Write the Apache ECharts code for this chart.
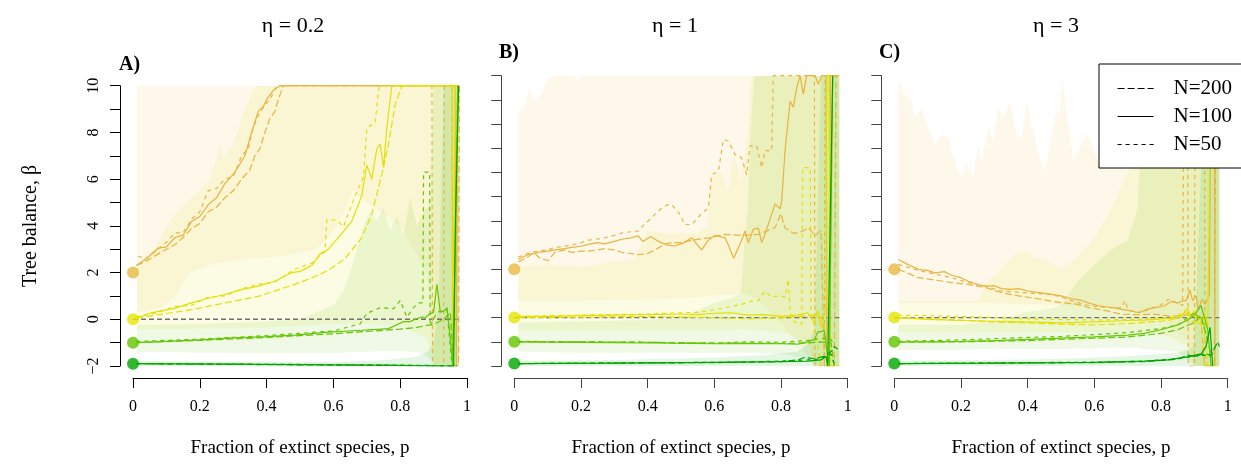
<!DOCTYPE html>
<html>
<head>
<meta charset="utf-8">
<script src="https://cdn.jsdelivr.net/npm/echarts@6/dist/echarts.min.js"></script>
<style>
html,body{margin:0;padding:0;background:#fff;}
#chart{width:1241px;height:466px;}
</style>
</head>
<body>
<div id="chart"></div>
<script>
// ---------------- DATA ----------------
const panelTitles = ['η = 0.2', 'η = 1', 'η = 3'];
const panelLetters = ['A)', 'B)', 'C)'];
const xTickLabels = ['0', '0.2', '0.4', '0.6', '0.8', '1'];
const yTickLabels = ['\u22122', '0', '2', '4', '6', '8', '10'];
const groupNames = ['orange', 'yellow', 'lgreen', 'dgreen'];
const startValues = [2, 0, -1, -1.9];
const legendNames = ['N=200', 'N=100', 'N=50'];
const zeroLine = [[0, 0], [0.975, 0]];

// Panel A (eta = 0.2) lines: [p, beta]
const A_orange_200 = [[0.01,2.3],[0.04,2.5],[0.076,2.8],[0.1,3.0],[0.126,3.2],[0.15,3.5],[0.176,3.9],[0.2,4.1],[0.225,4.6],[0.25,4.8],[0.275,5.2],[0.3,5.5],[0.325,6.0],[0.35,6.4],[0.365,7.0],[0.38,7.3],[0.395,8.0],[0.41,8.6],[0.425,8.9],[0.435,9.4],[0.45,10],[0.955,10],[0.958,-2],[0.975,-2],[0.977,10]];
const A_orange_100 = [[0.01,2.3],[0.04,2.6],[0.076,3.05],[0.1,3.1],[0.126,3.5],[0.15,3.6],[0.176,4.2],[0.2,4.4],[0.225,4.9],[0.25,5.2],[0.275,5.8],[0.305,6.3],[0.335,7.0],[0.345,7.5],[0.355,8.0],[0.375,8.9],[0.39,9.1],[0.4,9.4],[0.42,9.8],[0.44,10],[0.965,10],[0.968,-2],[0.972,10]];
const A_orange_50 = [[0.015,2.7],[0.04,2.6],[0.076,3.0],[0.1,3.3],[0.126,3.7],[0.15,3.7],[0.176,4.3],[0.2,4.6],[0.225,5.5],[0.25,5.6],[0.275,6.0],[0.3,6.1],[0.325,7.0],[0.345,7.3],[0.36,8.2],[0.375,8.7],[0.395,9.2],[0.41,9.4],[0.43,10],[0.895,10],[0.897,-2],[0.93,-2],[0.932,10],[0.975,10]];
const A_yellow_200 = [[0.01,0.05],[0.076,0.2],[0.176,0.41],[0.275,0.7],[0.375,0.98],[0.475,1.45],[0.535,1.77],[0.585,2.1],[0.635,2.6],[0.685,3.5],[0.715,4.5],[0.745,6.2],[0.765,7.5],[0.785,9.2],[0.805,10],[0.975,10]];
const A_yellow_100 = [[0.01,0.05],[0.05,0.25],[0.076,0.34],[0.126,0.48],[0.176,0.7],[0.225,0.9],[0.275,1.06],[0.325,1.27],[0.375,1.42],[0.425,1.63],[0.475,2.0],[0.5,2.05],[0.535,2.3],[0.56,2.8],[0.585,3.0],[0.615,3.5],[0.655,4.2],[0.685,5.3],[0.7,6.6],[0.715,6.0],[0.73,7.3],[0.74,7.5],[0.75,6.5],[0.76,8.2],[0.775,10],[0.955,10],[0.957,-2],[0.962,-2],[0.965,10]];
const A_yellow_50 = [[0.01,0.1],[0.076,0.3],[0.126,0.55],[0.176,0.6],[0.225,0.95],[0.275,1.0],[0.325,1.3],[0.375,1.5],[0.425,1.6],[0.485,2.15],[0.535,2.4],[0.575,2.9],[0.58,4.25],[0.61,4.25],[0.63,3.96],[0.66,5.1],[0.69,6.1],[0.7,8.2],[0.725,8.4],[0.735,9.8],[0.74,10],[0.97,10]];
const A_lgreen_200 = [[0.01,-1.0],[0.2,-0.9],[0.4,-0.78],[0.6,-0.62],[0.7,-0.52],[0.8,-0.42],[0.85,-0.35],[0.885,-0.25],[0.91,-0.15],[0.93,0.0],[0.95,0.3],[0.96,-2],[0.97,-2]];
const A_lgreen_100 = [[0.01,-1.0],[0.1,-0.95],[0.2,-0.88],[0.3,-0.8],[0.4,-0.74],[0.485,-0.68],[0.585,-0.55],[0.685,-0.47],[0.765,-0.4],[0.795,-0.2],[0.81,-0.1],[0.83,-0.1],[0.845,0.0],[0.865,0.1],[0.875,0.05],[0.885,0.2],[0.9,0.3],[0.91,1.5],[0.92,0.3],[0.93,0.35],[0.94,0.5],[0.95,-0.8],[0.957,-1.95],[0.965,3],[0.972,10]];
const A_lgreen_50 = [[0.01,-0.95],[0.2,-0.85],[0.4,-0.7],[0.6,-0.5],[0.68,-0.2],[0.7,0.25],[0.74,0.5],[0.78,0.45],[0.8,0.8],[0.82,0.1],[0.84,0.5],[0.855,0.7],[0.868,0.7],[0.87,6.3],[0.888,6.3],[0.89,-0.3],[0.91,0.3],[0.94,0.4],[0.955,-2]];
const A_dgreen_200 = [[0.01,-1.9],[0.3,-1.93],[0.6,-1.96],[0.8,-1.98],[0.9,-2.0],[0.97,-2.0]];
const A_dgreen_100 = [[0.01,-1.9],[0.3,-1.92],[0.6,-1.95],[0.8,-1.97],[0.9,-2.0],[0.96,-2.0],[0.965,4],[0.975,10]];
const A_dgreen_50 = [[0.01,-1.9],[0.3,-1.92],[0.6,-1.94],[0.8,-1.96],[0.9,-1.98],[0.96,-2]];

// Panel B (eta = 1)
const B_orange_200 = [[0.012,2.3],[0.04,2.5],[0.06,2.7],[0.072,2.5],[0.1,2.35],[0.122,2.7],[0.15,2.8],[0.172,2.7],[0.2,2.75],[0.222,2.75],[0.25,2.8],[0.272,2.85],[0.3,2.8],[0.322,2.7],[0.35,2.65],[0.372,2.6],[0.4,2.65],[0.422,2.8],[0.45,3.03],[0.472,3.1],[0.5,3.1],[0.532,3.2],[0.582,3.3],[0.632,3.44],[0.682,3.4],[0.732,3.44],[0.782,3.72],[0.8,4.3],[0.812,3.7],[0.837,3.48],[0.862,3.55],[0.882,3.72],[0.902,3.4],[0.92,3.6],[0.93,-2],[0.96,-2],[0.965,10],[0.975,10]];
const B_orange_100 = [[0.012,2.4],[0.04,2.6],[0.072,2.7],[0.1,2.75],[0.122,2.8],[0.15,2.85],[0.172,2.9],[0.2,2.95],[0.222,3.03],[0.25,3.1],[0.272,3.05],[0.3,3.15],[0.322,3.24],[0.35,3.3],[0.372,3.38],[0.385,3.15],[0.41,3.35],[0.422,3.24],[0.44,3.1],[0.46,3.0],[0.482,2.96],[0.51,3.1],[0.532,3.3],[0.55,3.0],[0.562,2.8],[0.582,3.2],[0.602,3.4],[0.632,3.3],[0.642,3.0],[0.658,2.45],[0.682,3.2],[0.692,3.58],[0.702,3.1],[0.717,3.65],[0.732,3.7],[0.742,3.1],[0.752,3.45],[0.772,4.27],[0.782,4.7],[0.797,4.5],[0.802,4.8],[0.812,6.9],[0.827,8.94],[0.837,8.7],[0.847,9.5],[0.857,10],[0.867,9.24],[0.877,10],[0.902,10],[0.912,9.65],[0.922,10],[0.935,10],[0.938,-2],[0.945,-2],[0.948,10],[0.97,10]];
const B_orange_50 = [[0.012,2.5],[0.05,2.7],[0.072,2.75],[0.1,2.8],[0.122,2.9],[0.15,2.95],[0.172,3.0],[0.2,3.1],[0.222,3.2],[0.25,3.25],[0.272,3.3],[0.3,3.4],[0.322,3.5],[0.35,3.55],[0.372,3.58],[0.39,3.85],[0.41,4.1],[0.422,4.27],[0.44,4.5],[0.46,4.67],[0.472,4.67],[0.49,4.4],[0.5,4.2],[0.51,3.85],[0.532,3.85],[0.56,4.27],[0.582,4.54],[0.592,5.9],[0.612,6.05],[0.627,7.36],[0.642,7.3],[0.662,6.74],[0.682,6.6],[0.697,5.9],[0.707,7.1],[0.727,7.1],[0.742,6.2],[0.752,6.9],[0.772,6.9],[0.777,10],[0.9,10],[0.902,-2],[0.93,-2],[0.932,10],[0.975,10]];
const B_yellow_200 = [[0.012,0.0],[0.2,0.02],[0.4,0.05],[0.6,0.0],[0.7,-0.05],[0.8,0.0],[0.85,0.05],[0.9,0.1],[0.92,0.0],[0.93,-0.3],[0.94,-2],[0.975,-2]];
const B_yellow_100 = [[0.012,0.05],[0.1,0.05],[0.2,0.08],[0.3,0.1],[0.4,0.12],[0.5,0.15],[0.55,0.12],[0.6,0.18],[0.65,0.2],[0.7,0.1],[0.75,0.12],[0.8,0.05],[0.85,0.1],[0.88,0.2],[0.9,-0.2],[0.91,0.3],[0.92,-0.4],[0.935,0.5],[0.937,10],[0.945,10],[0.947,-2],[0.96,-2]];
const B_yellow_50 = [[0.012,0.05],[0.2,0.1],[0.4,0.15],[0.5,0.2],[0.55,0.22],[0.582,0.28],[0.632,0.41],[0.682,0.55],[0.712,0.68],[0.732,0.7],[0.752,1.1],[0.772,0.85],[0.792,0.9],[0.812,0.85],[0.822,1.58],[0.827,0.3],[0.832,-0.1],[0.855,-0.27],[0.862,-0.27],[0.865,6.2],[0.888,6.2],[0.89,0.2],[0.9,-0.3],[0.92,-2]];
const B_lgreen_200 = [[0.012,-1.0],[0.2,-1.0],[0.4,-1.02],[0.6,-1.05],[0.7,-1.05],[0.8,-1.07],[0.88,-1.05],[0.92,-1.0],[0.95,-1.05],[0.96,-2]];
const B_lgreen_100 = [[0.012,-1.0],[0.2,-1.02],[0.4,-1.05],[0.6,-1.08],[0.7,-1.07],[0.8,-1.08],[0.85,-1.1],[0.88,-1.0],[0.9,-0.9],[0.91,-0.6],[0.93,-0.55],[0.935,-1.1],[0.945,-2],[0.95,4],[0.955,10]];
const B_lgreen_50 = [[0.012,-0.98],[0.2,-1.0],[0.4,-1.02],[0.6,-1.06],[0.7,-1.0],[0.8,-1.02],[0.88,-0.95],[0.9,-0.9],[0.92,-0.85],[0.95,-0.9],[0.96,-1.2]];
const B_dgreen_200 = [[0.012,-1.9],[0.3,-1.88],[0.6,-1.86],[0.8,-1.82],[0.85,-1.75],[0.87,-1.65],[0.9,-1.7],[0.93,-1.6],[0.95,-1.4],[0.96,-1.2],[0.97,-1.3]];
const B_dgreen_100 = [[0.012,-1.9],[0.3,-1.88],[0.6,-1.85],[0.8,-1.82],[0.88,-1.8],[0.92,-1.75],[0.935,-1.6],[0.94,-2],[0.945,-2],[0.95,6],[0.955,10]];
const B_dgreen_50 = [[0.012,-1.9],[0.3,-1.87],[0.6,-1.85],[0.8,-1.8],[0.88,-1.75],[0.92,-1.7],[0.95,-1.5],[0.96,-1.95]];

// Panel C (eta = 3)
const C_orange_200 = [[0.012,2.0],[0.072,1.65],[0.1,1.6],[0.172,1.45],[0.222,1.37],[0.272,1.25],[0.322,1.03],[0.372,0.9],[0.422,0.8],[0.472,0.68],[0.5,0.62],[0.55,0.55],[0.582,0.41],[0.632,0.3],[0.682,0.14],[0.732,0.12],[0.782,0.14],[0.832,0.05],[0.862,0.1],[0.88,0.1],[0.9,0.2],[0.92,0.0],[0.93,-2],[0.96,-2],[0.965,10],[0.975,10]];
const C_orange_100 = [[0.012,2.4],[0.04,2.2],[0.072,2.0],[0.1,1.95],[0.122,1.85],[0.15,1.9],[0.172,1.75],[0.2,1.65],[0.222,1.5],[0.25,1.37],[0.272,1.3],[0.3,1.32],[0.322,1.2],[0.35,1.17],[0.372,1.2],[0.4,1.1],[0.422,1.05],[0.45,1.0],[0.472,0.96],[0.5,0.9],[0.532,0.78],[0.56,0.72],[0.582,0.61],[0.61,0.5],[0.632,0.45],[0.66,0.4],[0.682,0.34],[0.71,0.28],[0.732,0.2],[0.76,0.35],[0.782,0.41],[0.8,0.45],[0.812,0.5],[0.832,0.68],[0.85,0.6],[0.862,0.68],[0.875,0.7],[0.887,1.14],[0.895,0.7],[0.905,0.9],[0.912,0.3],[0.922,0.75],[0.932,0.55],[0.945,0.9],[0.95,10],[0.96,10],[0.962,-2]];
const C_orange_50 = [[0.012,2.2],[0.072,1.95],[0.122,1.8],[0.172,1.65],[0.222,1.45],[0.272,1.3],[0.322,1.1],[0.372,1.05],[0.422,1.0],[0.472,0.96],[0.5,0.85],[0.532,0.7],[0.582,0.5],[0.632,0.42],[0.682,0.4],[0.692,0.7],[0.702,0.3],[0.742,0.2],[0.772,0.41],[0.792,0.45],[0.822,0.75],[0.85,0.6],[0.865,0.5],[0.867,6.2],[0.88,6.2],[0.882,-2],[0.9,-2],[0.902,10],[0.93,10],[0.932,-2],[0.97,-2]];
const C_yellow_200 = [[0.012,0.0],[0.1,-0.05],[0.2,-0.1],[0.3,-0.18],[0.4,-0.22],[0.5,-0.27],[0.6,-0.3],[0.7,-0.25],[0.75,-0.2],[0.8,-0.15],[0.85,-0.05],[0.88,0.2],[0.9,-0.3],[0.92,0.0],[0.93,-0.5],[0.94,-2],[0.97,-2]];
const C_yellow_100 = [[0.012,0.0],[0.1,-0.07],[0.2,-0.12],[0.3,-0.15],[0.4,-0.18],[0.5,-0.22],[0.6,-0.18],[0.7,-0.12],[0.75,-0.1],[0.8,-0.05],[0.85,0.0],[0.87,0.2],[0.88,0.4],[0.89,0.0],[0.9,0.3],[0.91,-0.2],[0.92,-0.3],[0.93,0.2],[0.94,-0.5],[0.95,10],[0.97,10]];
const C_yellow_50 = [[0.012,0.1],[0.1,0.08],[0.2,0.05],[0.3,0.0],[0.4,-0.05],[0.5,-0.08],[0.6,-0.1],[0.7,-0.08],[0.8,-0.05],[0.85,0.05],[0.87,0.3],[0.88,-0.1],[0.9,0.2],[0.92,-0.2],[0.93,-2]];
const C_lgreen_200 = [[0.012,-1.0],[0.2,-1.0],[0.4,-0.95],[0.6,-0.85],[0.7,-0.8],[0.8,-0.65],[0.85,-0.5],[0.9,-0.2],[0.92,0.1],[0.95,-1.5]];
const C_lgreen_100 = [[0.012,-1.0],[0.1,-1.0],[0.2,-0.98],[0.3,-0.95],[0.4,-0.9],[0.5,-0.85],[0.6,-0.8],[0.7,-0.72],[0.75,-0.65],[0.8,-0.5],[0.85,-0.3],[0.88,-0.1],[0.9,0.1],[0.92,0.5],[0.93,0.0],[0.94,-0.5],[0.95,-2]];
const C_lgreen_50 = [[0.012,-0.98],[0.2,-0.92],[0.4,-0.82],[0.5,-0.78],[0.6,-0.7],[0.7,-0.62],[0.8,-0.45],[0.85,-0.3],[0.88,0.0],[0.9,0.2],[0.93,-0.3]];
const C_dgreen_200 = [[0.012,-1.9],[0.3,-1.88],[0.6,-1.86],[0.75,-1.82],[0.85,-1.72],[0.88,-1.55],[0.9,-1.6],[0.93,-1.5],[0.95,-1.55],[0.97,-1.0],[0.975,-1.2]];
const C_dgreen_100 = [[0.012,-1.9],[0.3,-1.88],[0.6,-1.85],[0.75,-1.8],[0.82,-1.75],[0.88,-1.62],[0.92,-1.5],[0.935,-1.2],[0.947,-0.4],[0.955,-2]];
const C_dgreen_50 = [[0.012,-1.9],[0.3,-1.87],[0.6,-1.84],[0.75,-1.8],[0.85,-1.7],[0.9,-1.6],[0.93,-1.55],[0.95,-1.6]];

// Shaded bands: [p, lower, upper]
const A_band_orange = [[0.012,0.3,10],[0.05,0.4,10],[0.08,0.5,10],[0.11,0.8,10],[0.13,1.0,10],[0.15,1.6,10],[0.17,2.0,10],[0.25,2.4,10],[0.35,2.6,10],[0.45,2.7,10],[0.5,2.85,10],[0.55,3.0,10],[0.6,3.8,10],[0.63,4.5,10],[0.66,5.5,10],[0.7,5.0,10],[0.8,4.0,10],[0.88,2.0,10],[0.9,-2,10],[0.975,-2,10]];
const A_band_yellow = [[0.012,-0.45,2.3],[0.05,-0.45,2.8],[0.08,-0.45,3.4],[0.11,-0.45,4.2],[0.13,-0.42,4.6],[0.16,-0.42,5.0],[0.2,-0.4,5.5],[0.23,-0.4,6.0],[0.25,-0.4,6.8],[0.26,-0.4,7.5],[0.27,-0.4,6.9],[0.3,-0.4,7.5],[0.33,-0.38,8.8],[0.35,-0.35,9.5],[0.37,-0.35,10],[0.5,-0.3,10],[0.6,-0.2,10],[0.7,-0.2,10],[0.8,-0.3,10],[0.88,-0.8,10],[0.9,-2,10],[0.975,-2,10]];
const A_band_lgreen = [[0.012,-1.4,-0.25],[0.2,-1.42,-0.2],[0.4,-1.45,-0.1],[0.5,-1.45,0.0],[0.55,-1.45,0.3],[0.6,-1.45,0.6],[0.63,-1.42,1.2],[0.65,-1.4,2.0],[0.67,-1.4,3.0],[0.69,-1.4,4.0],[0.71,-1.38,4.6],[0.73,-1.38,4.2],[0.75,-1.35,4.8],[0.77,-1.35,3.8],[0.79,-1.35,4.4],[0.81,-1.35,3.6],[0.83,-1.4,5.2],[0.85,-1.4,4.0],[0.87,-1.5,4.6],[0.89,-1.7,5.0],[0.9,-2,10],[0.975,-2,10]];
const A_band_dgreen = [[0.012,-2,-1.78],[0.3,-2,-1.82],[0.6,-2,-1.82],[0.75,-2,-1.75],[0.85,-2,-1.6],[0.88,-2,-1.4],[0.9,-2,-1.0],[0.915,-2,0.5],[0.93,-2,10],[0.975,-2,10]];

const B_band_orange = [[0.012,0.7,8.5],[0.03,0.7,8.7],[0.045,0.7,9.4],[0.06,0.7,9.0],[0.08,0.7,9.2],[0.1,0.7,9.9],[0.12,0.7,10],[0.18,0.7,10],[0.19,0.7,9.8],[0.2,0.7,10],[0.4,0.75,10],[0.5,0.8,10],[0.6,0.9,10],[0.7,1.0,10],[0.75,0.5,10],[0.85,-1,10],[0.9,-2,10],[0.975,-2,10]];
const B_band_yellow = [[0.012,-0.55,2.1],[0.1,-0.55,2.2],[0.2,-0.55,2.1],[0.3,-0.55,2.3],[0.36,-0.55,2.4],[0.38,-0.55,3.0],[0.4,-0.55,3.6],[0.45,-0.55,3.5],[0.5,-0.55,3.5],[0.55,-0.55,3.5],[0.58,-0.55,3.8],[0.59,-0.55,5.8],[0.62,-0.55,6.0],[0.64,-0.55,5.2],[0.66,-0.5,6.8],[0.68,-0.5,5.6],[0.7,-0.5,7.5],[0.71,-0.5,10],[0.8,-0.6,10],[0.88,-1,10],[0.9,-2,10],[0.975,-2,10]];
const B_band_lgreen = [[0.012,-1.4,-0.2],[0.2,-1.45,-0.15],[0.4,-1.45,-0.1],[0.5,-1.45,0.0],[0.55,-1.45,0.3],[0.6,-1.45,0.6],[0.65,-1.45,0.8],[0.68,-1.45,1.0],[0.69,-1.45,3.0],[0.7,-1.45,4.5],[0.71,-1.45,8.0],[0.72,-1.45,10],[0.8,-1.5,10],[0.88,-1.7,10],[0.9,-2,10],[0.975,-2,10]];
const B_band_dgreen = [[0.012,-2,-1.78],[0.3,-2,-1.75],[0.6,-2,-1.65],[0.75,-2,-1.55],[0.85,-2,-1.4],[0.88,-2,-1.1],[0.9,-2,-0.5],[0.92,-2,10],[0.975,-2,10]];

const C_band_orange = [[0.012,0.6,9.84],[0.032,0.6,9.22],[0.052,0.6,9.0],[0.062,0.6,8.25],[0.082,0.6,8.66],[0.102,0.6,7.84],[0.122,0.6,7.15],[0.142,0.6,7.56],[0.162,0.6,7.42],[0.172,0.6,6.94],[0.187,0.6,6.18],[0.202,0.6,5.84],[0.217,0.6,6.39],[0.237,0.6,5.77],[0.252,0.6,7.15],[0.262,0.6,6.46],[0.282,0.6,7.84],[0.297,0.58,7.29],[0.312,0.58,8.66],[0.327,0.58,8.25],[0.347,0.56,8.94],[0.357,0.56,8.25],[0.367,0.56,7.56],[0.382,0.55,7.42],[0.397,0.55,8.94],[0.412,0.55,7.98],[0.432,0.54,6.73],[0.452,0.53,6.05],[0.472,0.52,7.56],[0.482,0.52,8.39],[0.497,0.5,8.53],[0.502,0.5,9.96],[0.537,0.48,6.5],[0.577,0.45,7.6],[0.617,0.42,6.35],[0.637,0.4,8.0],[0.657,0.38,6.9],[0.68,0.35,8.5],[0.7,0.3,10],[0.8,0.0,10],[0.88,-1,10],[0.9,-2,10],[0.975,-2,10]];
const C_band_yellow = [[0.012,-0.6,0.7],[0.25,-0.62,0.7],[0.28,-0.62,1.5],[0.31,-0.62,1.8],[0.33,-0.62,2.2],[0.36,-0.62,2.6],[0.39,-0.62,2.75],[0.42,-0.62,2.5],[0.45,-0.62,2.4],[0.48,-0.62,2.2],[0.5,-0.62,2.0],[0.55,-0.62,2.5],[0.6,-0.62,3.3],[0.65,-0.62,4.5],[0.7,-0.62,6.0],[0.75,-0.62,7.5],[0.8,-0.7,9.0],[0.84,-0.9,10],[0.88,-1.2,10],[0.9,-2,10],[0.975,-2,10]];
const C_band_lgreen = [[0.012,-1.35,-0.3],[0.2,-1.33,-0.3],[0.3,-1.3,-0.15],[0.35,-1.3,0.05],[0.4,-1.3,0.25],[0.45,-1.3,0.3],[0.5,-1.3,0.5],[0.55,-1.28,1.5],[0.6,-1.28,2.2],[0.65,-1.25,2.8],[0.7,-1.25,3.2],[0.73,-1.25,4.5],[0.75,-1.3,10],[0.85,-1.4,10],[0.9,-2,10],[0.975,-2,10]];
const C_band_dgreen = [[0.012,-2,-1.78],[0.3,-2,-1.75],[0.5,-2,-1.7],[0.7,-2,-1.6],[0.85,-2,-1.45],[0.9,-2,-1.2],[0.93,-2,10],[0.975,-2,10]];

// ---------------- STYLE / LAYOUT ----------------
const FONT = "'Liberation Serif', 'Times New Roman', serif";
const lineColors = {orange:'#E8B33F', yellow:'#E3E000', lgreen:'#63C600', dgreen:'#00A600'};
const dotColors = ['#E8B840', '#E6E600', '#63C600', '#00A600'];
const bandFills = {orange:'rgba(235,200,80,0.12)', yellow:'rgba(230,230,0,0.10)', lgreen:'rgba(99,198,0,0.10)', dgreen:'rgba(0,166,0,0.10)'};
const dashes = {'N=200':[7,3], 'N=100':'solid', 'N=50':[4,4]};
const grids = [
  {left:133, top:85.7, width:334, height:280.3},
  {left:514.3, top:75.7, width:333.4, height:290.3},
  {left:894.3, top:75.7, width:333.4, height:290.3}
];
const titlePos = [[293,26],[675,26],[1056,26]];
const letterPos = [[119,65],[499,53],[879,53]];
const axisColors = ['#000','#444','#444'];

const panelLines = [
  {orange:[A_orange_200,A_orange_100,A_orange_50], yellow:[A_yellow_200,A_yellow_100,A_yellow_50], lgreen:[A_lgreen_200,A_lgreen_100,A_lgreen_50], dgreen:[A_dgreen_200,A_dgreen_100,A_dgreen_50]},
  {orange:[B_orange_200,B_orange_100,B_orange_50], yellow:[B_yellow_200,B_yellow_100,B_yellow_50], lgreen:[B_lgreen_200,B_lgreen_100,B_lgreen_50], dgreen:[B_dgreen_200,B_dgreen_100,B_dgreen_50]},
  {orange:[C_orange_200,C_orange_100,C_orange_50], yellow:[C_yellow_200,C_yellow_100,C_yellow_50], lgreen:[C_lgreen_200,C_lgreen_100,C_lgreen_50], dgreen:[C_dgreen_200,C_dgreen_100,C_dgreen_50]}
];
const panelBands = [
  {orange:A_band_orange, yellow:A_band_yellow, lgreen:A_band_lgreen, dgreen:A_band_dgreen},
  {orange:B_band_orange, yellow:B_band_yellow, lgreen:B_band_lgreen, dgreen:B_band_dgreen},
  {orange:C_band_orange, yellow:C_band_yellow, lgreen:C_band_lgreen, dgreen:C_band_dgreen}
];

// ---------------- BUILD ----------------
const xAxes = [], yAxes = [], series = [], graphics = [];
for (let p = 0; p < 3; p++) {
  const ac = axisColors[p];
  xAxes.push({
    type:'value', gridIndex:p, min:0, max:1, interval:0.2, offset:12,
    axisLine:{show:true, onZero:false, lineStyle:{color:ac, width:1}},
    axisTick:{show:true, length:10, lineStyle:{color:ac, width:1}},
    axisLabel:{color:'#000', fontFamily:FONT, fontSize:16, margin:21,
      formatter: v => xTickLabels[Math.round(v/0.2)]},
    splitLine:{show:false},
    name:'Fraction of extinct species, p', nameLocation:'middle', nameGap:61,
    nameTextStyle:{color:'#000', fontFamily:FONT, fontSize:19}
  });
  yAxes.push({
    type:'value', gridIndex:p, min:-2, max:10, interval:1, offset:13,
    axisLine:{show:true, onZero:false, lineStyle:{color:ac, width:1}},
    axisTick:{show:true, length:10, lineStyle:{color:ac, width:1}},
    axisLabel:{show:p===0, rotate:90, color:'#000', fontFamily:FONT, fontSize:16, margin:18,
      formatter: v => (Math.round(v) % 2 === 0) ? yTickLabels[(Math.round(v)+2)/2] : ''},
    splitLine:{show:false}
  });
  // bands
  groupNames.forEach(g => {
    const band = panelBands[p][g];
    series.push({
      type:'custom', xAxisIndex:p, yAxisIndex:p, silent:true, z:1, clip:true,
      data: band,
      encode:{x:0, y:[1,2]},
      renderItem: function(params, api) {
        if (params.dataIndex !== 0) return null;
        const pts = [];
        for (let i = 0; i < band.length; i++) pts.push(api.coord([band[i][0], band[i][2]]));
        for (let i = band.length - 1; i >= 0; i--) pts.push(api.coord([band[i][0], band[i][1]]));
        return {type:'polygon', shape:{points:pts}, style:{fill:bandFills[g], stroke:null}};
      }
    });
  });
  // zero reference line
  series.push({type:'line', xAxisIndex:p, yAxisIndex:p, data:zeroLine, symbol:'none', silent:true, z:3,
    lineStyle:{color:'#707070', width:1.4, type:[5,3]}});
  // lines
  groupNames.forEach(g => {
    panelLines[p][g].forEach((d, k) => {
      series.push({type:'line', xAxisIndex:p, yAxisIndex:p, data:d, symbol:'none', silent:true, z:4,
        lineStyle:{color:lineColors[g], width:1.2, type:dashes[legendNames[k]]}});
    });
  });
  // starting dots
  series.push({type:'scatter', xAxisIndex:p, yAxisIndex:p, clip:false, silent:true, z:6,
    symbolSize:12, data: startValues.map((v, i) => ({value:[0, v], itemStyle:{color:dotColors[i]}}))});
  graphics.push({type:'text', x:titlePos[p][0], y:titlePos[p][1],
    style:{text:panelTitles[p], font:'22px ' + FONT, fill:'#000', textAlign:'center', textVerticalAlign:'middle'}});
  graphics.push({type:'text', x:letterPos[p][0], y:letterPos[p][1],
    style:{text:panelLetters[p], font:'bold 20px ' + FONT, fill:'#000', textAlign:'left', textVerticalAlign:'middle'}});
}
graphics.push({type:'text', x:31, y:226, rotation:Math.PI/2,
  style:{text:'Tree balance, β', font:'20px ' + FONT, fill:'#000', textAlign:'center', textVerticalAlign:'middle'}});

// legend dummy series
legendNames.forEach(n => {
  series.push({name:n, type:'line', xAxisIndex:2, yAxisIndex:2, data:[], symbol:'none', showSymbol:false,
    lineStyle:{color:'#000', width:1.2, type:dashes[n]}, itemStyle:{color:'#000'}});
});

const option = {
  animation:false,
  backgroundColor:'#fff',
  grid: grids,
  xAxis: xAxes,
  yAxis: yAxes,
  legend: {data:legendNames.map(n => ({name:n})), orient:'vertical', left:1099, top:64, selectedMode:false,
    z:20, zlevel:0,
    backgroundColor:'#fff', borderColor:'#000', borderWidth:1, borderRadius:0,
    padding:[14,19,13,18], itemGap:7, itemWidth:36, itemHeight:20,
    itemStyle:{opacity:0},
    lineStyle:{width:1.2, color:'#000'},
    textStyle:{color:'#000', fontFamily:FONT, fontSize:21, padding:[0,0,0,15]}},
  graphic: graphics,
  series: series
};
const chart = echarts.init(document.getElementById('chart'), null, {renderer:'canvas'});
chart.setOption(option);
</script>
</body>
</html>
